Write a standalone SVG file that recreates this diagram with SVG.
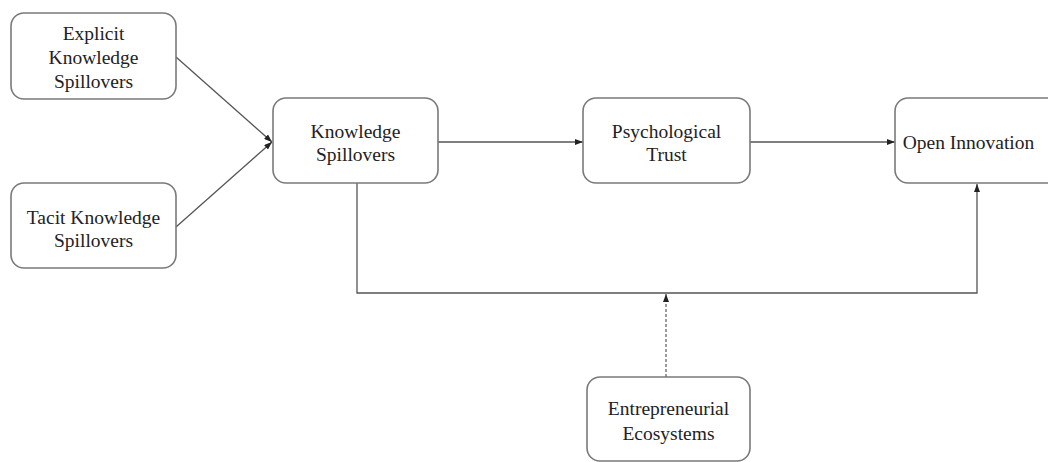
<svg xmlns="http://www.w3.org/2000/svg" width="1048" height="462" viewBox="0 0 1048 462">
<style>
.box{fill:#fff;stroke:#7a7a7a;stroke-width:1.6}
.t{font-family:"Liberation Serif","Times New Roman",serif;font-size:19.5px;fill:#222;text-anchor:middle}
.c{fill:none;stroke:#555;stroke-width:1.3}
.d{fill:none;stroke:#666;stroke-width:1.3;stroke-dasharray:3 2}
</style>
<defs>
<marker id="ah" viewBox="0 0 8 6" refX="8" refY="3" markerWidth="8" markerHeight="6" markerUnits="userSpaceOnUse" orient="auto">
<path d="M0,0 L8,3 L0,6 Z" fill="#222"/>
</marker>
</defs>
<rect width="1048" height="462" fill="#fff"/>
<g id="connectors">
<line class="c" x1="176" y1="57" x2="272" y2="142" marker-end="url(#ah)"/>
<line class="c" x1="176" y1="227" x2="272" y2="142" marker-end="url(#ah)"/>
<line class="c" x1="438" y1="142" x2="583" y2="142" marker-end="url(#ah)"/>
<line class="c" x1="750" y1="142" x2="895" y2="142" marker-end="url(#ah)"/>
<polyline class="c" points="357,183 357,293 977,293 977,184" marker-end="url(#ah)"/>
<line class="d" x1="666" y1="377" x2="666" y2="294" marker-end="url(#ah)"/>
</g>
<g id="explicit">
<rect class="box" x="11" y="13" width="165" height="86" rx="13"/>
<text class="t" x="93.5" y="40">Explicit</text>
<text class="t" x="93.5" y="64">Knowledge</text>
<text class="t" x="93.5" y="88">Spillovers</text>
</g>
<g id="tacit">
<rect class="box" x="11" y="183" width="165" height="85" rx="13"/>
<text class="t" x="93.5" y="224">Tacit Knowledge</text>
<text class="t" x="93.5" y="247">Spillovers</text>
</g>
<g id="knowledge">
<rect class="box" x="273" y="98" width="165" height="85" rx="13"/>
<text class="t" x="355.5" y="138">Knowledge</text>
<text class="t" x="355.5" y="161">Spillovers</text>
</g>
<g id="trust">
<rect class="box" x="583" y="98" width="167" height="85" rx="13"/>
<text class="t" x="666.5" y="138">Psychological</text>
<text class="t" x="666.5" y="161">Trust</text>
</g>
<g id="open">
<rect class="box" x="895" y="98" width="170" height="85" rx="13"/>
<text class="t" x="968.5" y="149">Open Innovation</text>
</g>
<g id="ecosystems">
<rect class="box" x="587" y="377" width="163" height="84" rx="13"/>
<text class="t" x="668.5" y="415">Entrepreneurial</text>
<text class="t" x="668.5" y="440">Ecosystems</text>
</g>
</svg>
